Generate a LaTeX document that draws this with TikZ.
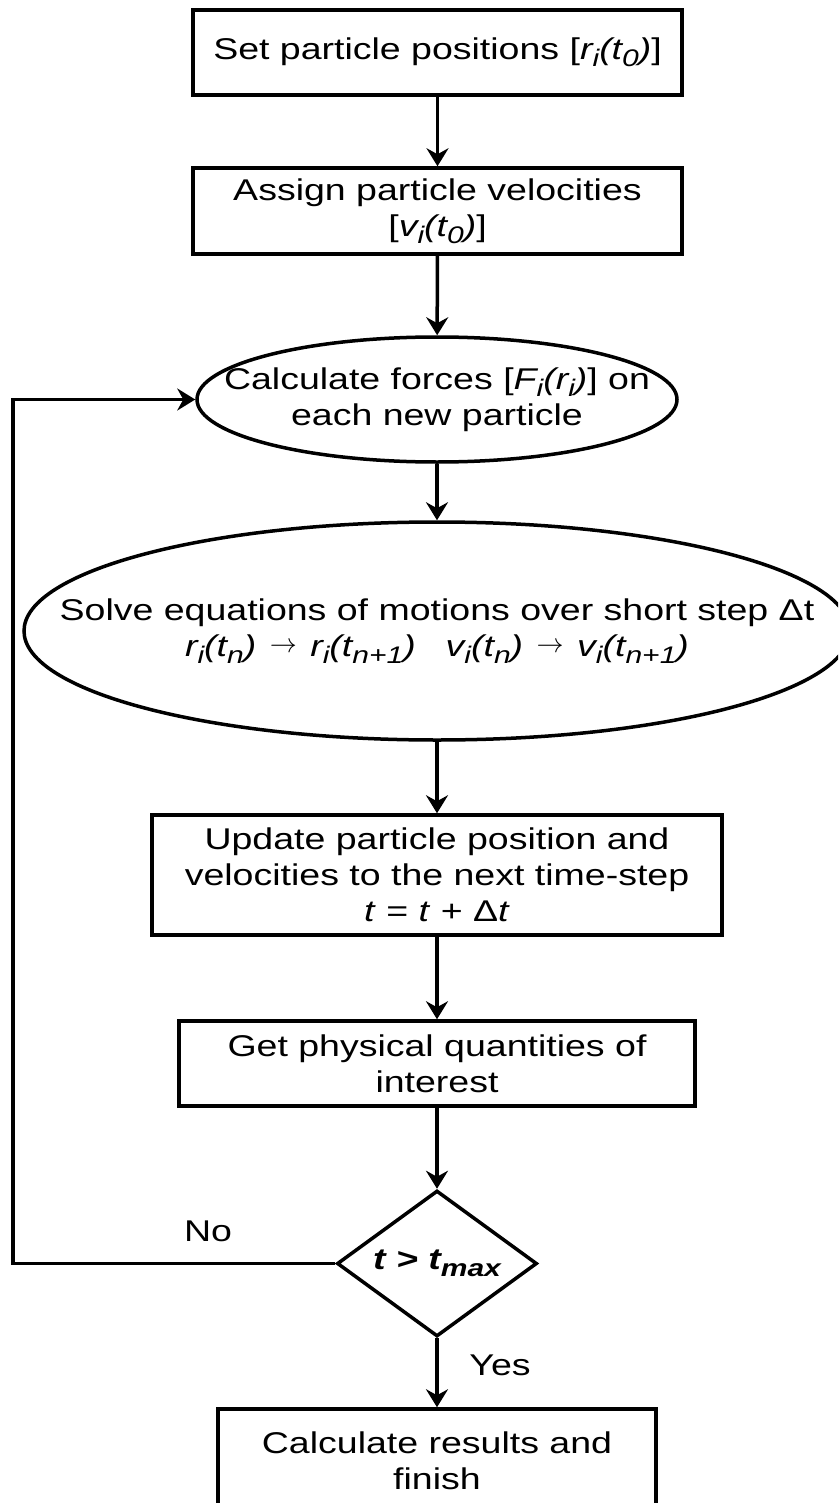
\documentclass[tikz,border=0pt]{standalone}
\usepackage{fontspec}
\setmainfont{Liberation Sans}[FakeStretch=1.25]
\usetikzlibrary{shapes.geometric,arrows.meta}
\newcommand\mysub[1]{\raisebox{-0.45ex}{\fontsize{24}{24}\selectfont #1}}
\newcommand\myto{\hspace{0.45em}\raisebox{0.25ex}{\resizebox{27pt}{!}{$\rightarrow$}}\hspace{0.45em}}
\tikzset{
  shapeline/.style={draw=black, line width=3.5pt, inner sep=0pt},
  box/.style={shapeline, rectangle, align=center},
  oval/.style={shapeline, ellipse},
  decision/.style={shapeline, diamond},
  txt/.style={align=center, inner sep=0pt},
  arr/.style={draw=black, line width=3.5pt, -{Stealth[length=18pt,width=22pt,inset=6pt]}}
}
\begin{document}
\begin{tikzpicture}[x=1pt,y=-1pt,font=\fontsize{30}{36}\selectfont]
\path[use as bounding box] (0,0) rectangle (838,1503);
\clip (0,0) rectangle (838,1503);
\node[box, minimum width=489pt, minimum height=85pt] (b1) at (437.5,52.5)
  {Set particle positions [\textit{r\mysub{i}(t\mysub{0})}]};
\node[box, minimum width=489pt, minimum height=86pt] (b2) at (437.5,211)
  {Assign particle velocities\\{}[\textit{v\mysub{i}(t\mysub{0})}]};
\node[oval, minimum width=480pt, minimum height=125pt] (e1) at (437,399.5) {};
\node[txt] (e1t) at (e1.center)
  {Calculate forces [\textit{F\mysub{i}(r\mysub{i})}] on\\each new particle};
\node[oval, minimum width=826pt, minimum height=218pt] (e2) at (437,631) {};
\node[txt] (e2t) at (e2.center)
  {Solve equations of motions over short step Δt\\
   \textit{r\mysub{i}(t\mysub{n})\myto r\mysub{i}(t\mysub{n+1})\quad v\mysub{i}(t\mysub{n})\myto v\mysub{i}(t\mysub{n+1})}};
\node[box, minimum width=570pt, minimum height=120pt] (b3) at (437,875)
  {Update particle position and\\velocities to the next time-step\\\textit{t} = \textit{t} + Δ\textit{t}};
\node[box, minimum width=516pt, minimum height=85pt] (b4) at (437,1063.5)
  {Get physical quantities of\\interest};
\node[decision, minimum width=200pt, minimum height=146pt] (d) at (437,1263.5) {};
\node[txt] (dt) at (d.center) {\textbf{\textit{t > t\mysub{max}}}};
\node[box, minimum width=438pt, minimum height=104pt] (b5) at (437,1461)
  {Calculate results and\\finish};
\node[txt] (no) at (208,1231) {No};
\node[txt] (yes) at (500,1365) {Yes};
\coordinate (lb) at (13,1263.5);
\coordinate (lt) at (13,399.5);
\draw[arr] (b1) -- (b2);
\draw[arr] (b2) -- (e1);
\draw[arr] (e1) -- (e2);
\draw[arr] (e2) -- (b3);
\draw[arr] (b3) -- (b4);
\draw[arr] (b4) -- (d);
\draw[arr] (d) -- (b5);
\draw[arr] (d.west) -- (lb) -- (lt) -- (e1.west);
\end{tikzpicture}
\end{document}
